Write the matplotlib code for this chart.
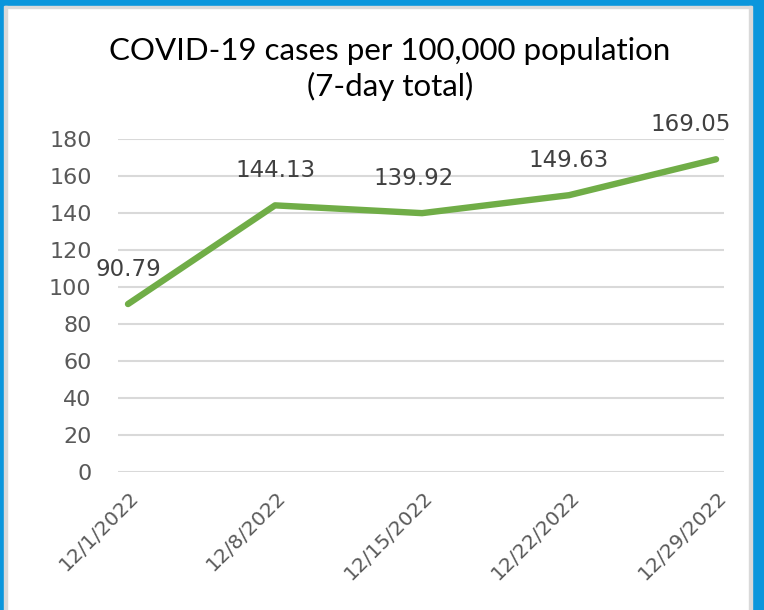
import matplotlib
matplotlib.use("Agg")
import matplotlib.pyplot as plt
from matplotlib.patches import Rectangle
from matplotlib.transforms import ScaledTranslation

dates = ["12/1/2022", "12/8/2022", "12/15/2022", "12/22/2022", "12/29/2022"]
cases = [90.79, 144.13, 139.92, 149.63, 169.05]
yticks = [0, 20, 40, 60, 80, 100, 120, 140, 160, 180]
title = "COVID-19 cases per 100,000 population\n(7-day total)"

W, H = 764, 610
fig = plt.figure(figsize=(W / 100, H / 100), dpi=100)
fig.patch.set_facecolor("white")

# frame (blue border with light grey inner line)
blue = "#0A96DC"
grey = "#D9D9D9"
def px_rect(x0, y0, x1, y1, color):
    fig.patches.append(Rectangle((x0 / W, 1 - y1 / H), (x1 - x0) / W, (y1 - y0) / H,
                                 transform=fig.transFigure, color=color, zorder=0))
px_rect(0, 0, W, 6, blue)
px_rect(0, 6, W, 8, grey)
px_rect(0, 0, 4, H, blue)
px_rect(4, 6, 7, H, grey)
px_rect(752, 0, W, H, blue)
px_rect(749, 6, 752, H, grey)

ax = fig.add_axes([118 / W, 1 - 472 / H, (724 - 118) / W, (472 - 139) / H])
ax.set_facecolor("none")
x = list(range(len(dates)))
ax.plot(x, cases, color="#70AD47", lw=4.6, solid_capstyle="round", zorder=3)
ax.set_xlim(-0.068, 4.054)
ax.set_ylim(0, 180)
ax.set_yticks(yticks)
ax.set_yticklabels([str(v) for v in yticks])
ax.grid(axis="y", color="#D9D9D9", lw=1.5)
ax.set_axisbelow(True)
for s in ax.spines.values():
    s.set_visible(False)
ax.tick_params(axis="y", length=0, pad=19, labelsize=16, labelcolor="#595959")
ax.set_xticks(x)
ax.set_xticklabels(dates, rotation=45, ha="right", va="center",
                   rotation_mode="anchor", fontsize=14.5, color="#595959")
ax.tick_params(axis="x", length=0, pad=16)
shift = ScaledTranslation(8 / 100, 0, fig.dpi_scale_trans)
for lab in ax.get_xticklabels():
    lab.set_transform(lab.get_transform() + shift)

label_dx = [0, 0, -6, 0, -18]
for xi, v, dx in zip(x, cases, label_dx):
    ax.annotate(f"{v:.2f}", (xi, v), xytext=(dx, 25), textcoords="offset points",
                ha="center", va="center", fontsize=16.5, color="#404040")

fig.text(390 / W, 1 - 69 / H, title, ha="center", va="center", fontsize=22.5,
         family="Lato", color="black", linespacing=1.25)

fig.savefig("out.png", dpi=100)
